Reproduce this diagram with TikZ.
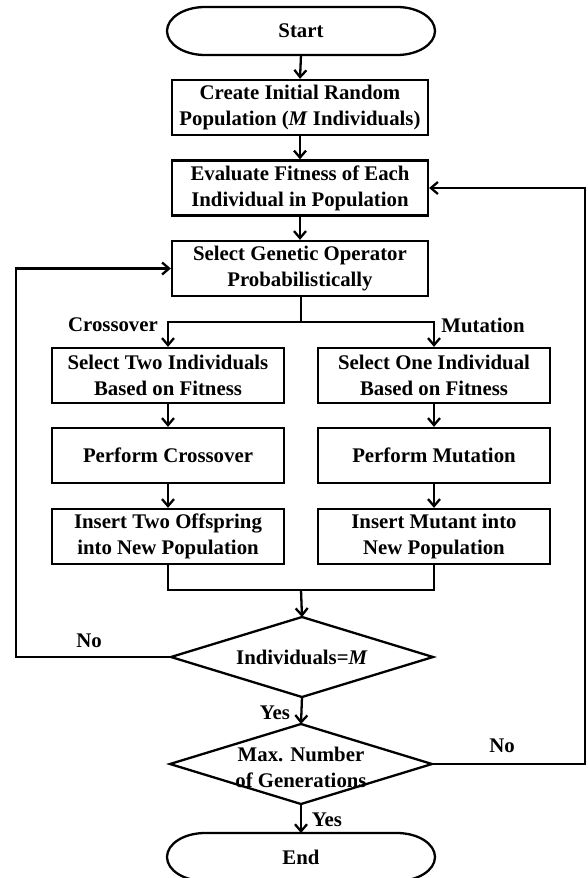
\documentclass[tikz,border=0pt]{standalone}
\usepackage{fontspec}
\setmainfont{Liberation Serif}
\usetikzlibrary{arrows.meta}
\begin{document}
\begin{tikzpicture}[x=1pt,y=-1pt, line width=2.3pt,
  every node/.style={font=\bfseries\fontsize{20.8}{26}\selectfont, align=center, inner sep=0pt},
  box/.style={draw, rectangle, minimum height=55pt},
  mainbox/.style={box, minimum width=256pt},
  sidebox/.style={box, minimum width=232pt},
  flag/.style={draw=none, rectangle, outer sep=0pt, minimum width=262pt, minimum height=80pt},
  term/.style={draw=none, rectangle, outer sep=0pt, minimum width=268pt, minimum height=48pt},
  arr/.style={-{Straight Barb[length=7pt,width=12pt]}}]
\useasboundingbox (0,0) rectangle (587,878);

% nodes
\node[term] (start) at (301,31) {Start};
\node[mainbox] (b1) at (300,107.5) {Create Initial Random\\Population (\textit{M} Individuals)};
\node[mainbox] (b2) at (300,188) {Evaluate Fitness of Each\\Individual  in Population};
\node[mainbox] (b3) at (300,268.5) {Select Genetic Operator\\Probabilistically};
\node[sidebox] (l1) at (168,375.5) {Select Two Individuals\\Based on Fitness};
\node[sidebox] (l2) at (168,455.5) {Perform Crossover};
\node[sidebox] (l3) at (168,536.5) {Insert Two Offspring\\into New Population};
\node[sidebox] (r1) at (434,375.5) {Select One Individual\\Based on Fitness};
\node[sidebox] (r2) at (434,455.5) {Perform Mutation};
\node[sidebox] (r3) at (434,536.5) {Insert Mutant into\\New Population};
\node[flag] (d1) at (302,657) {Individuals=\textit{M}};
\node[flag] (d2) at (301,764) {};
\node (d2t) at (301,767) {Max. Number\\of Generations};
\node[term] (end) at (301,857) {End};

% terminal outlines
\foreach \t in {start,end}{
  \draw ([xshift=38pt]\t.north west) -- ([xshift=-38pt]\t.north east)
    arc[start angle=90,end angle=-90,x radius=38pt,y radius=24pt]
    -- ([xshift=38pt]\t.south west)
    arc[start angle=270,end angle=90,x radius=38pt,y radius=24pt] -- cycle;
}
% diamond outlines
\foreach \d in {d1,d2}{
  \draw (\d.north) -- (\d.east) -- (\d.south) -- (\d.west) -- cycle;
}

% labels
\node (lc) at (113,325) {Crossover};
\node (lm) at (483,325) {Mutation};
\node (ln1) at (89,641) {No};
\node (ly1) at (275,713) {Yes};
\node (ln2) at (502,746) {No};
\node (ly2) at (327,820) {Yes};

% coordinates
\coordinate (br) at (301,322);
\coordinate (mg) at (301,590);
\coordinate (lx) at (16,657);
\coordinate (rx) at (585,764);

% connectors
\draw[arr] (start.south) -- (b1.north);
\draw[arr] (b1.south) -- (b2.north);
\draw[arr] (b2.south) -- (b3.north);
\draw (b3.south -| br) -- (br);
\draw[arr] (br) -| (l1.north);
\draw[arr] (br) -| (r1.north);
\draw[arr] (l1) -- (l2);
\draw[arr] (l2) -- (l3);
\draw[arr] (r1) -- (r2);
\draw[arr] (r2) -- (r3);
\draw (l3.south) |- (mg) -| (r3.south);
\draw[arr] (mg) -- (d1.north);
\draw[arr] (d1.south) -- (d2.north);
\draw[arr] (d2.south) -- (end.north);
\draw[arr] (d1.west) -- (lx) |- (b3.west);
\draw[arr] (d2.east) -- (rx) |- (b2.east);
\end{tikzpicture}
\end{document}
